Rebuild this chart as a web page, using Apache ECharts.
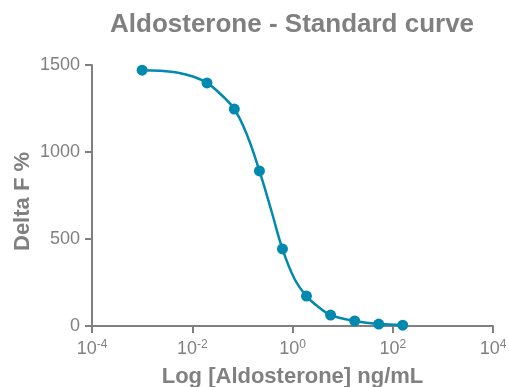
<!DOCTYPE html>
<html>
<head>
<meta charset="utf-8">
<script src="https://cdn.jsdelivr.net/npm/echarts@6/dist/echarts.min.js"></script>
<style>
html,body{margin:0;padding:0;background:#fff;}
#c{width:509px;height:387px;}
</style>
</head>
<body>
<div id="c"></div>
<script>
// Measured standard points (ng/mL, Delta F %)
var concentrations = [0.001, 0.0197, 0.069, 0.219, 0.63, 1.9, 5.75, 17.4, 52.5, 158];
var deltaF = [1470, 1397, 1247, 891, 443, 172, 63, 29, 11, 5];
// Fitted curve samples
var curveX = [0.001, 0.00219, 0.0055, 0.011, 0.0197, 0.0347, 0.069, 0.126, 0.219, 0.38, 0.63, 1.1, 1.9, 3.3, 5.75, 17.4, 52.5, 158];
var curveY = [1470, 1467, 1454, 1431, 1397, 1339, 1247, 1092, 891, 661, 443, 270, 172, 109, 63, 29, 11, 6];
var yTicks = [0, 500, 1000, 1500];

var gray = '#808080';
var teal = '#0189b0';
var font = 'Liberation Sans, Arial, sans-serif';

var pts = concentrations.map(function (x, i) { return [x, deltaF[i]]; });
var curve = curveX.map(function (x, i) { return [x, curveY[i]]; });

var chart = echarts.init(document.getElementById('c'), null, {renderer: 'canvas'});
chart.setOption({
  animation: false,
  title: {
    text: 'Aldosterone - Standard curve',
    left: 110,
    top: 12,
    padding: 0,
    textStyle: {color: gray, fontSize: 26, fontWeight: 'bold', fontFamily: font}
  },
  grid: {left: 92, right: 16, top: 65, bottom: 61, containLabel: false, outerBoundsMode: 'none'},
  xAxis: {
    type: 'log',
    logBase: 10,
    min: 0.0001,
    max: 10000,
    interval: 2,
    name: 'Log [Aldosterone] ng/mL',
    nameLocation: 'middle',
    nameGap: 40,
    nameMoveOverlap: false,
    nameTextStyle: {color: gray, fontSize: 22, fontWeight: 'bold', fontFamily: font},
    axisLine: {show: true, onZero: false, lineStyle: {color: gray, width: 2}},
    axisTick: {show: true, length: 7, lineStyle: {color: gray, width: 2}},
    minorTick: {show: false},
    splitLine: {show: false},
    axisLabel: {
      margin: 13,
      color: gray,
      fontFamily: font,
      formatter: function (v) {
        var e = Math.round(Math.log10(v));
        return '{b|10}{s|' + e + '}';
      },
      rich: {
        b: {fontSize: 18, lineHeight: 20, color: gray, fontFamily: font},
        s: {fontSize: 12, lineHeight: 12, verticalAlign: 'top', color: gray, fontFamily: font}
      }
    }
  },
  yAxis: {
    type: 'value',
    min: yTicks[0],
    max: yTicks[yTicks.length - 1],
    interval: 500,
    name: 'Delta F %',
    nameLocation: 'middle',
    nameRotate: 90,
    nameGap: 58,
    nameMoveOverlap: false,
    nameTextStyle: {color: gray, fontSize: 22, fontWeight: 'bold', fontFamily: font, padding: [0, 12, 0, 0]},
    axisLine: {show: true, lineStyle: {color: gray, width: 2}},
    axisTick: {show: true, length: 7, lineStyle: {color: gray, width: 2}},
    splitLine: {show: false},
    axisLabel: {
      margin: 12, color: gray, fontSize: 18, fontFamily: font,
      formatter: function (v) { return String(v); }
    }
  },
  series: [
    {
      type: 'line',
      data: curve,
      smooth: 0.4,
      showSymbol: false,
      symbol: 'none',
      lineStyle: {color: teal, width: 2.5},
      z: 2
    },
    {
      type: 'scatter',
      data: pts,
      symbol: 'circle',
      symbolSize: 11,
      itemStyle: {color: teal, opacity: 1},
      z: 3
    }
  ]
});
</script>
</body>
</html>
